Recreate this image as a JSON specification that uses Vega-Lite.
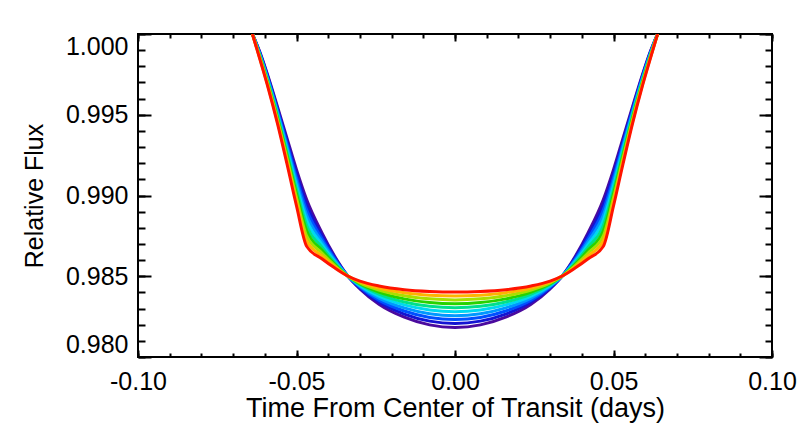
{
  "$schema": "https://vega.github.io/schema/vega-lite/v6.json",
  "width": 634,
  "height": 323,
  "autosize": {"type": "none"},
  "padding": {"left": 138, "top": 34, "right": 33, "bottom": 66},
  "background": "white",
  "config": {
    "font": "Liberation Sans",
    "view": {"stroke": "black", "strokeWidth": 2},
    "axis": {"domain": false, "grid": false, "tickColor": "black", "tickWidth": 2, "labelColor": "black", "labelFontSize": 25, "titleColor": "black", "titleFontSize": 24, "titleFontWeight": "normal"}
  },
  "data": {
    "values": [
      {"c":0,"t":-0.0639,"f":1},{"c":0,"t":-0.0615,"f":0.99885},{"c":0,"t":-0.059,"f":0.9974},{"c":0,"t":-0.056,"f":0.9955},{"c":0,"t":-0.053,"f":0.99355},{"c":0,"t":-0.05,"f":0.9916},{"c":0,"t":-0.0468,"f":0.98975},{"c":0,"t":-0.042,"f":0.9877},{"c":0,"t":-0.038,"f":0.98625},{"c":0,"t":-0.034,"f":0.98506},{"c":0,"t":-0.03,"f":0.98422},{"c":0,"t":-0.024,"f":0.98327},{"c":0,"t":-0.016,"f":0.98247},{"c":0,"t":-0.008,"f":0.98199},{"c":0,"t":0,"f":0.98183},{"c":0,"t":0.008,"f":0.98199},{"c":0,"t":0.016,"f":0.98247},{"c":0,"t":0.024,"f":0.98327},{"c":0,"t":0.03,"f":0.98422},{"c":0,"t":0.034,"f":0.98506},{"c":0,"t":0.038,"f":0.98625},{"c":0,"t":0.042,"f":0.9877},{"c":0,"t":0.0468,"f":0.98975},{"c":0,"t":0.05,"f":0.9916},{"c":0,"t":0.053,"f":0.99355},{"c":0,"t":0.056,"f":0.9955},{"c":0,"t":0.059,"f":0.9974},{"c":0,"t":0.0615,"f":0.99885},{"c":0,"t":0.0639,"f":1},
      {"c":1,"t":-0.0639,"f":1},{"c":1,"t":-0.0615,"f":0.9988},{"c":1,"t":-0.059,"f":0.99732},{"c":1,"t":-0.056,"f":0.99538},{"c":1,"t":-0.053,"f":0.99337},{"c":1,"t":-0.05,"f":0.99135},{"c":1,"t":-0.0468,"f":0.98943},{"c":1,"t":-0.042,"f":0.98752},{"c":1,"t":-0.038,"f":0.98617},{"c":1,"t":-0.034,"f":0.98506},{"c":1,"t":-0.03,"f":0.98427},{"c":1,"t":-0.024,"f":0.9834},{"c":1,"t":-0.016,"f":0.98266},{"c":1,"t":-0.008,"f":0.98222},{"c":1,"t":0,"f":0.98207},{"c":1,"t":0.008,"f":0.98222},{"c":1,"t":0.016,"f":0.98266},{"c":1,"t":0.024,"f":0.9834},{"c":1,"t":0.03,"f":0.98427},{"c":1,"t":0.034,"f":0.98506},{"c":1,"t":0.038,"f":0.98617},{"c":1,"t":0.042,"f":0.98752},{"c":1,"t":0.0468,"f":0.98943},{"c":1,"t":0.05,"f":0.99135},{"c":1,"t":0.053,"f":0.99337},{"c":1,"t":0.056,"f":0.99538},{"c":1,"t":0.059,"f":0.99732},{"c":1,"t":0.0615,"f":0.9988},{"c":1,"t":0.0639,"f":1},
      {"c":2,"t":-0.0639,"f":1},{"c":2,"t":-0.0615,"f":0.99875},{"c":2,"t":-0.059,"f":0.99724},{"c":2,"t":-0.056,"f":0.99527},{"c":2,"t":-0.053,"f":0.99319},{"c":2,"t":-0.05,"f":0.9911},{"c":2,"t":-0.0468,"f":0.98911},{"c":2,"t":-0.042,"f":0.98734},{"c":2,"t":-0.038,"f":0.98609},{"c":2,"t":-0.034,"f":0.98505},{"c":2,"t":-0.03,"f":0.98433},{"c":2,"t":-0.024,"f":0.98352},{"c":2,"t":-0.016,"f":0.98285},{"c":2,"t":-0.008,"f":0.98245},{"c":2,"t":0,"f":0.98232},{"c":2,"t":0.008,"f":0.98245},{"c":2,"t":0.016,"f":0.98285},{"c":2,"t":0.024,"f":0.98352},{"c":2,"t":0.03,"f":0.98433},{"c":2,"t":0.034,"f":0.98505},{"c":2,"t":0.038,"f":0.98609},{"c":2,"t":0.042,"f":0.98734},{"c":2,"t":0.0468,"f":0.98911},{"c":2,"t":0.05,"f":0.9911},{"c":2,"t":0.053,"f":0.99319},{"c":2,"t":0.056,"f":0.99527},{"c":2,"t":0.059,"f":0.99724},{"c":2,"t":0.0615,"f":0.99875},{"c":2,"t":0.0639,"f":1},
      {"c":3,"t":-0.0639,"f":1},{"c":3,"t":-0.0615,"f":0.9987},{"c":3,"t":-0.059,"f":0.99717},{"c":3,"t":-0.056,"f":0.99515},{"c":3,"t":-0.053,"f":0.99302},{"c":3,"t":-0.05,"f":0.99085},{"c":3,"t":-0.0468,"f":0.98879},{"c":3,"t":-0.042,"f":0.98716},{"c":3,"t":-0.038,"f":0.98601},{"c":3,"t":-0.034,"f":0.98505},{"c":3,"t":-0.03,"f":0.98438},{"c":3,"t":-0.024,"f":0.98365},{"c":3,"t":-0.016,"f":0.98304},{"c":3,"t":-0.008,"f":0.98268},{"c":3,"t":0,"f":0.98256},{"c":3,"t":0.008,"f":0.98268},{"c":3,"t":0.016,"f":0.98304},{"c":3,"t":0.024,"f":0.98365},{"c":3,"t":0.03,"f":0.98438},{"c":3,"t":0.034,"f":0.98505},{"c":3,"t":0.038,"f":0.98601},{"c":3,"t":0.042,"f":0.98716},{"c":3,"t":0.0468,"f":0.98879},{"c":3,"t":0.05,"f":0.99085},{"c":3,"t":0.053,"f":0.99302},{"c":3,"t":0.056,"f":0.99515},{"c":3,"t":0.059,"f":0.99717},{"c":3,"t":0.0615,"f":0.9987},{"c":3,"t":0.0639,"f":1},
      {"c":4,"t":-0.0639,"f":1},{"c":4,"t":-0.0615,"f":0.99865},{"c":4,"t":-0.059,"f":0.99709},{"c":4,"t":-0.056,"f":0.99503},{"c":4,"t":-0.053,"f":0.99284},{"c":4,"t":-0.05,"f":0.9906},{"c":4,"t":-0.0468,"f":0.98847},{"c":4,"t":-0.042,"f":0.98698},{"c":4,"t":-0.038,"f":0.98593},{"c":4,"t":-0.034,"f":0.98505},{"c":4,"t":-0.03,"f":0.98443},{"c":4,"t":-0.024,"f":0.98377},{"c":4,"t":-0.016,"f":0.98323},{"c":4,"t":-0.008,"f":0.98291},{"c":4,"t":0,"f":0.9828},{"c":4,"t":0.008,"f":0.98291},{"c":4,"t":0.016,"f":0.98323},{"c":4,"t":0.024,"f":0.98377},{"c":4,"t":0.03,"f":0.98443},{"c":4,"t":0.034,"f":0.98505},{"c":4,"t":0.038,"f":0.98593},{"c":4,"t":0.042,"f":0.98698},{"c":4,"t":0.0468,"f":0.98847},{"c":4,"t":0.05,"f":0.9906},{"c":4,"t":0.053,"f":0.99284},{"c":4,"t":0.056,"f":0.99503},{"c":4,"t":0.059,"f":0.99709},{"c":4,"t":0.0615,"f":0.99865},{"c":4,"t":0.0639,"f":1},
      {"c":5,"t":-0.0639,"f":1},{"c":5,"t":-0.0615,"f":0.9986},{"c":5,"t":-0.059,"f":0.99701},{"c":5,"t":-0.056,"f":0.99492},{"c":5,"t":-0.053,"f":0.99266},{"c":5,"t":-0.05,"f":0.99035},{"c":5,"t":-0.0468,"f":0.98814},{"c":5,"t":-0.042,"f":0.9868},{"c":5,"t":-0.038,"f":0.98584},{"c":5,"t":-0.034,"f":0.98504},{"c":5,"t":-0.03,"f":0.98449},{"c":5,"t":-0.024,"f":0.9839},{"c":5,"t":-0.016,"f":0.98341},{"c":5,"t":-0.008,"f":0.98314},{"c":5,"t":0,"f":0.98305},{"c":5,"t":0.008,"f":0.98314},{"c":5,"t":0.016,"f":0.98341},{"c":5,"t":0.024,"f":0.9839},{"c":5,"t":0.03,"f":0.98449},{"c":5,"t":0.034,"f":0.98504},{"c":5,"t":0.038,"f":0.98584},{"c":5,"t":0.042,"f":0.9868},{"c":5,"t":0.0468,"f":0.98814},{"c":5,"t":0.05,"f":0.99035},{"c":5,"t":0.053,"f":0.99266},{"c":5,"t":0.056,"f":0.99492},{"c":5,"t":0.059,"f":0.99701},{"c":5,"t":0.0615,"f":0.9986},{"c":5,"t":0.0639,"f":1},
      {"c":6,"t":-0.0639,"f":1},{"c":6,"t":-0.0615,"f":0.99855},{"c":6,"t":-0.059,"f":0.99693},{"c":6,"t":-0.056,"f":0.9948},{"c":6,"t":-0.053,"f":0.99248},{"c":6,"t":-0.05,"f":0.9901},{"c":6,"t":-0.0468,"f":0.98782},{"c":6,"t":-0.042,"f":0.98662},{"c":6,"t":-0.038,"f":0.98576},{"c":6,"t":-0.034,"f":0.98504},{"c":6,"t":-0.03,"f":0.98454},{"c":6,"t":-0.024,"f":0.98402},{"c":6,"t":-0.016,"f":0.9836},{"c":6,"t":-0.008,"f":0.98337},{"c":6,"t":0,"f":0.98329},{"c":6,"t":0.008,"f":0.98337},{"c":6,"t":0.016,"f":0.9836},{"c":6,"t":0.024,"f":0.98402},{"c":6,"t":0.03,"f":0.98454},{"c":6,"t":0.034,"f":0.98504},{"c":6,"t":0.038,"f":0.98576},{"c":6,"t":0.042,"f":0.98662},{"c":6,"t":0.0468,"f":0.98782},{"c":6,"t":0.05,"f":0.9901},{"c":6,"t":0.053,"f":0.99248},{"c":6,"t":0.056,"f":0.9948},{"c":6,"t":0.059,"f":0.99693},{"c":6,"t":0.0615,"f":0.99855},{"c":6,"t":0.0639,"f":1},
      {"c":7,"t":-0.0639,"f":1},{"c":7,"t":-0.0615,"f":0.9985},{"c":7,"t":-0.059,"f":0.99686},{"c":7,"t":-0.056,"f":0.99468},{"c":7,"t":-0.053,"f":0.99231},{"c":7,"t":-0.05,"f":0.98985},{"c":7,"t":-0.0468,"f":0.9875},{"c":7,"t":-0.042,"f":0.98644},{"c":7,"t":-0.038,"f":0.98568},{"c":7,"t":-0.034,"f":0.98504},{"c":7,"t":-0.03,"f":0.98459},{"c":7,"t":-0.024,"f":0.98415},{"c":7,"t":-0.016,"f":0.98379},{"c":7,"t":-0.008,"f":0.9836},{"c":7,"t":0,"f":0.98353},{"c":7,"t":0.008,"f":0.9836},{"c":7,"t":0.016,"f":0.98379},{"c":7,"t":0.024,"f":0.98415},{"c":7,"t":0.03,"f":0.98459},{"c":7,"t":0.034,"f":0.98504},{"c":7,"t":0.038,"f":0.98568},{"c":7,"t":0.042,"f":0.98644},{"c":7,"t":0.0468,"f":0.9875},{"c":7,"t":0.05,"f":0.98985},{"c":7,"t":0.053,"f":0.99231},{"c":7,"t":0.056,"f":0.99468},{"c":7,"t":0.059,"f":0.99686},{"c":7,"t":0.0615,"f":0.9985},{"c":7,"t":0.0639,"f":1},
      {"c":8,"t":-0.0639,"f":1},{"c":8,"t":-0.0615,"f":0.99845},{"c":8,"t":-0.059,"f":0.99678},{"c":8,"t":-0.056,"f":0.99457},{"c":8,"t":-0.053,"f":0.99213},{"c":8,"t":-0.05,"f":0.9896},{"c":8,"t":-0.0468,"f":0.98718},{"c":8,"t":-0.042,"f":0.98626},{"c":8,"t":-0.038,"f":0.9856},{"c":8,"t":-0.034,"f":0.98503},{"c":8,"t":-0.03,"f":0.98465},{"c":8,"t":-0.024,"f":0.98427},{"c":8,"t":-0.016,"f":0.98398},{"c":8,"t":-0.008,"f":0.98383},{"c":8,"t":0,"f":0.98378},{"c":8,"t":0.008,"f":0.98383},{"c":8,"t":0.016,"f":0.98398},{"c":8,"t":0.024,"f":0.98427},{"c":8,"t":0.03,"f":0.98465},{"c":8,"t":0.034,"f":0.98503},{"c":8,"t":0.038,"f":0.9856},{"c":8,"t":0.042,"f":0.98626},{"c":8,"t":0.0468,"f":0.98718},{"c":8,"t":0.05,"f":0.9896},{"c":8,"t":0.053,"f":0.99213},{"c":8,"t":0.056,"f":0.99457},{"c":8,"t":0.059,"f":0.99678},{"c":8,"t":0.0615,"f":0.99845},{"c":8,"t":0.0639,"f":1},
      {"c":9,"t":-0.0639,"f":1},{"c":9,"t":-0.0615,"f":0.9984},{"c":9,"t":-0.059,"f":0.9967},{"c":9,"t":-0.056,"f":0.99445},{"c":9,"t":-0.053,"f":0.99195},{"c":9,"t":-0.05,"f":0.98935},{"c":9,"t":-0.0468,"f":0.98686},{"c":9,"t":-0.042,"f":0.98608},{"c":9,"t":-0.038,"f":0.98552},{"c":9,"t":-0.034,"f":0.98503},{"c":9,"t":-0.03,"f":0.9847},{"c":9,"t":-0.024,"f":0.9844},{"c":9,"t":-0.016,"f":0.98417},{"c":9,"t":-0.008,"f":0.98406},{"c":9,"t":0,"f":0.98402},{"c":9,"t":0.008,"f":0.98406},{"c":9,"t":0.016,"f":0.98417},{"c":9,"t":0.024,"f":0.9844},{"c":9,"t":0.03,"f":0.9847},{"c":9,"t":0.034,"f":0.98503},{"c":9,"t":0.038,"f":0.98552},{"c":9,"t":0.042,"f":0.98608},{"c":9,"t":0.0468,"f":0.98686},{"c":9,"t":0.05,"f":0.98935},{"c":9,"t":0.053,"f":0.99195},{"c":9,"t":0.056,"f":0.99445},{"c":9,"t":0.059,"f":0.9967},{"c":9,"t":0.0615,"f":0.9984},{"c":9,"t":0.0639,"f":1}
    ]
  },
  "layer": [
    {
      "mark": {"type": "line", "strokeWidth": 3, "interpolate": "monotone", "clip": true},
      "encoding": {
        "x": {"field": "t", "type": "quantitative", "scale": {"domain": [-0.1, 0.1], "nice": false, "zero": false},
          "axis": {"orient": "bottom", "values": [-0.1, -0.05, 0, 0.05, 0.1], "format": ".2f", "labelExpr": "replace(datum.label, '\u2212', '-')", "tickSize": -7, "labelPadding": 19, "labelFlush": false, "title": "Time From Center of Transit (days)", "titleFontSize": 27, "titlePadding": 1}},
        "y": {"field": "f", "type": "quantitative", "scale": {"domain": [0.98, 1.0], "nice": false, "zero": false},
          "axis": {"orient": "left", "values": [0.98, 0.985, 0.99, 0.995, 1.0], "format": ".3f", "tickSize": -13, "labelPadding": 23, "labelFlush": true, "title": "Relative Flux", "titleFontSize": 25, "titlePadding": 18}},
        "color": {"field": "c", "type": "nominal", "legend": null,
          "scale": {"domain": [0, 1, 2, 3, 4, 5, 6, 7, 8, 9], "range": ["#4b0a9e", "#1414d2", "#0050ff", "#0098ff", "#00d8f0", "#00e08c", "#28d200", "#a8e000", "#ffb400", "#ff1400"]}}
      }
    },
    {
      "mark": {"type": "point", "opacity": 0, "size": 1},
      "encoding": {
        "x": {"field": "t", "type": "quantitative", "scale": {"domain": [-0.1, 0.1], "nice": false, "zero": false},
          "axis": {"orient": "bottom", "values": [-0.1, -0.09, -0.08, -0.07, -0.06, -0.05, -0.04, -0.03, -0.02, -0.01, 0, 0.01, 0.02, 0.03, 0.04, 0.05, 0.06, 0.07, 0.08, 0.09, 0.1], "tickSize": -4, "labels": false, "title": null}},
        "y": {"field": "f", "type": "quantitative", "scale": {"domain": [0.98, 1.0], "nice": false, "zero": false},
          "axis": {"orient": "left", "values": [0.98, 0.981, 0.982, 0.983, 0.984, 0.985, 0.986, 0.987, 0.988, 0.989, 0.99, 0.991, 0.992, 0.993, 0.994, 0.995, 0.996, 0.997, 0.998, 0.999, 1.0], "tickSize": -7, "labels": false, "title": null}}
      }
    },
    {
      "mark": {"type": "point", "opacity": 0, "size": 1},
      "encoding": {
        "x": {"field": "t", "type": "quantitative", "scale": {"domain": [-0.1, 0.1], "nice": false, "zero": false},
          "axis": {"orient": "top", "values": [-0.1, -0.05, 0, 0.05, 0.1], "tickSize": -7, "labels": false, "title": null}},
        "y": {"field": "f", "type": "quantitative", "scale": {"domain": [0.98, 1.0], "nice": false, "zero": false},
          "axis": {"orient": "right", "values": [0.98, 0.985, 0.99, 0.995, 1.0], "tickSize": -13, "labels": false, "title": null}}
      }
    },
    {
      "mark": {"type": "point", "opacity": 0, "size": 1},
      "encoding": {
        "x": {"field": "t", "type": "quantitative", "scale": {"domain": [-0.1, 0.1], "nice": false, "zero": false},
          "axis": {"orient": "top", "values": [-0.1, -0.09, -0.08, -0.07, -0.06, -0.05, -0.04, -0.03, -0.02, -0.01, 0, 0.01, 0.02, 0.03, 0.04, 0.05, 0.06, 0.07, 0.08, 0.09, 0.1], "tickSize": -4, "labels": false, "title": null}},
        "y": {"field": "f", "type": "quantitative", "scale": {"domain": [0.98, 1.0], "nice": false, "zero": false},
          "axis": {"orient": "right", "values": [0.98, 0.981, 0.982, 0.983, 0.984, 0.985, 0.986, 0.987, 0.988, 0.989, 0.99, 0.991, 0.992, 0.993, 0.994, 0.995, 0.996, 0.997, 0.998, 0.999, 1.0], "tickSize": -7, "labels": false, "title": null}}
      }
    }
  ],
  "resolve": {"axis": {"x": "independent", "y": "independent"}}
}
